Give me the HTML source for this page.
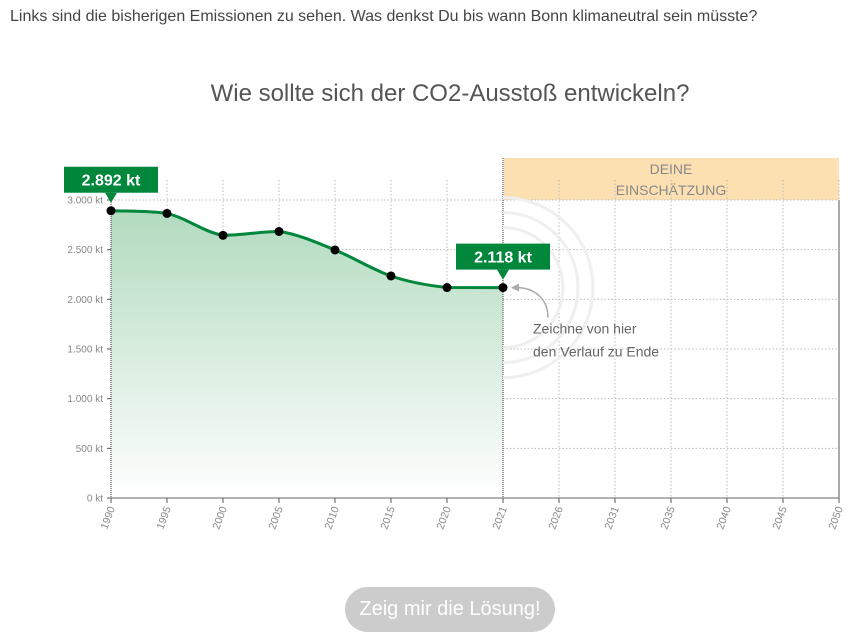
<!DOCTYPE html>
<html><head><meta charset="utf-8">
<style>
body{margin:0;width:859px;height:641px;background:#fff;font-family:"Liberation Sans",sans-serif;overflow:hidden;position:relative}
#intro{position:absolute;left:10px;top:8px;font-size:16px;color:#444}
#title{position:absolute;left:0;width:900px;top:80px;text-align:center;font-size:24px;color:#555}
#btn{position:absolute;left:345px;top:587px;width:210px;height:45px;border-radius:23px;background:#ccc;color:#fff;font-size:20px;text-align:center;line-height:45px}
svg{position:absolute;left:0;top:0}
</style></head><body>
<div id="intro">Links sind die bisherigen Emissionen zu sehen. Was denkst Du bis wann Bonn klimaneutral sein müsste?</div>
<div id="title">Wie sollte sich der CO2-Ausstoß entwickeln?</div>
<svg id="chart" width="859" height="641"></svg>
<div id="btn">Zeig mir die Lösung!</div>
<script>
const categories=["1990","1995","2000","2005","2010","2015","2020","2021","2026","2031","2035","2040","2045","2050"];
const values=[2892,2865,2644,2683,2497,2235,2119,2118];
const yTicks=[0,500,1000,1500,2000,2500,3000];
const yTickLabels=["0 kt","500 kt","1.000 kt","1.500 kt","2.000 kt","2.500 kt","3.000 kt"];
const labelFirst="2.892 kt", labelLast="2.118 kt";

const NS="http://www.w3.org/2000/svg";
const svg=document.getElementById('chart');
const x0=111,step=(839-111)/(categories.length-1);
const X=i=>x0+i*step;
const Y=v=>498-v*(298/3000);
function el(t,a,p){const e=document.createElementNS(NS,t);for(const k in a)e.setAttribute(k,a[k]);(p||svg).appendChild(e);return e;}
const defs=el('defs',{});
const g=el('linearGradient',{id:'gr',x1:0,y1:0,x2:0,y2:1},defs);
el('stop',{offset:0,'stop-color':'#b2dbbf'},g);el('stop',{offset:1,'stop-color':'#fff'},g);
const lastI=values.length-1;
const band=el('rect',{x:X(lastI)+1,y:158,width:X(categories.length-1)-X(lastI)-1,height:42,fill:'#fde0b2'});

const bt=el('text',{x:(X(lastI)+X(categories.length-1))/2,y:174,'text-anchor':'middle','font-size':14,fill:'#888'});
bt.textContent='DEINE';

const bt2=el('text',{x:(X(lastI)+X(categories.length-1))/2,y:195,'text-anchor':'middle','font-size':14,fill:'#888'});
bt2.textContent='EINSCHÄTZUNG';

yTicks.forEach((v,i)=>{
 if(v>0){const l=el('line',{x1:x0,x2:X(categories.length-1),y1:Y(v),y2:Y(v),stroke:'#bbb','stroke-dasharray':'1.5,2'});
 }
 el('line',{x1:x0-4,x2:x0,y1:Y(v),y2:Y(v),stroke:'#555'});
 const t=el('text',{x:x0-8,y:Y(v)+3.5,'text-anchor':'end','font-size':10,fill:'#888'});
 t.textContent=yTickLabels[i];
 
});
categories.forEach((c,i)=>{
 if(i>0&&i!=lastI){const l=el('line',{x1:X(i),x2:X(i),y1:Y(3000)-20,y2:498,stroke:'#bbb','stroke-dasharray':'1.5,2'});
 }
 el('line',{x1:X(i),x2:X(i),y1:498,y2:503,stroke:'#555'});
 const t=el('text',{x:0,y:0,'text-anchor':'end','font-size':10.5,fill:'#888',transform:`translate(${X(i)+4},${508}) rotate(-70)`});
 t.textContent=c;
 
});
const pts=values.map((v,i)=>[X(i),Y(v)]);
function curve(p){let d=`M${p[0][0]},${p[0][1]}`;for(let i=0;i<p.length-1;i++){const p0=p[i-1]||p[i],p1=p[i],p2=p[i+1],p3=p[i+2]||p2;const t=0.17;
 let c1y=p1[1]+(p2[1]-p0[1])*t,c2y=p2[1]-(p3[1]-p1[1])*t;
 const lo=Math.min(p1[1],p2[1]),hi=Math.max(p1[1],p2[1]);c1y=Math.max(lo,Math.min(hi,c1y));c2y=Math.max(lo,Math.min(hi,c2y));
 d+=` C${p1[0]+(p2[0]-p1[0])/3},${c1y} ${p2[0]-(p2[0]-p1[0])/3},${c2y} ${p2[0]},${p2[1]}`;}return d;}
const lp=curve(pts);
const area=el('path',{d:lp+` L${X(lastI)},498 L${x0},498 Z`,fill:'url(#gr)'});

el('line',{x1:x0,x2:x0,y1:Y(3000)-20,y2:498,stroke:'#333','stroke-dasharray':'1,1'});
el('line',{x1:X(lastI),x2:X(lastI),y1:158,y2:498,stroke:'#333','stroke-dasharray':'1,1'});
el('line',{x1:X(categories.length-1),x2:X(categories.length-1),y1:200,y2:498,stroke:'#555'});
el('line',{x1:x0,x2:X(categories.length-1),y1:498,y2:498,stroke:'#666'});
[60,75,90].forEach(r=>{const cx=X(lastI),cy=Y(values[lastI]);
 el('path',{d:`M${cx},${cy-r} A${r},${r} 0 0 1 ${cx},${cy+r}`,fill:'none',stroke:'#efefef','stroke-width':3});});
const line=el('path',{d:lp,fill:'none',stroke:'#00873c','stroke-width':3});

pts.forEach(p=>{const c=el('circle',{cx:p[0],cy:p[1],r:4.5,fill:'#000'});
 });
function tag(i,txt){const x=X(i),y=Y(values[i]);const w=94,h=26;
 const r=el('rect',{x:x-w/2,y:y-44,width:w,height:h,fill:'#00873c'});
 
 el('path',{d:`M${x-6},${y-18} L${x+6},${y-18} L${x},${y-8} Z`,fill:'#00873c'});
 const t=el('text',{x:x,y:y-25,'text-anchor':'middle','font-size':16,'font-weight':'bold',fill:'#fff'});t.textContent=txt;}
tag(0,labelFirst);tag(lastI,labelLast);
const hx=X(lastI),hy=Y(values[lastI]);
el('path',{d:`M${hx+45},${hy+30} C${hx+45},${hy+10} ${hx+30},${hy} ${hx+14},${hy}`,fill:'none',stroke:'#aaa','stroke-width':1.5});
el('path',{d:`M${hx+8},${hy} L${hx+16},${hy-4} L${hx+16},${hy+4} Z`,fill:'#aaa'});
const h1=el('text',{x:hx+30,y:hy+46,'font-size':14,fill:'#666'});h1.textContent='Zeichne von hier';

const h2=el('text',{x:hx+30,y:hy+69,'font-size':14,fill:'#666'});h2.textContent='den Verlauf zu Ende';

</script>
</body></html>
